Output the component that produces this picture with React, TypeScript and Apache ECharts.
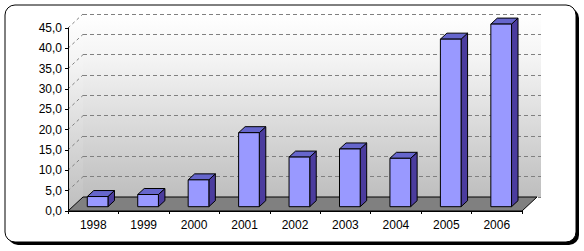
import React, { useEffect, useRef } from "react";
import * as echarts from "echarts";

const categories = ["1998", "1999", "2000", "2001", "2002", "2003", "2004", "2005", "2006"];
const values = [2.5, 3.0, 6.6, 18.2, 12.2, 14.2, 11.9, 41.2, 44.9];
const yMin = 0;
const yMax = 45;
const yStep = 5;
const yTickValues = [5, 10, 15, 20, 25, 30, 35, 40, 45];

const DX = 15;
const DY = -14;
const FX = 4.4;
const FY = -4.3;
const BDX = 6.5;
const BDY = -6;

const fmt = (v: number) => v.toFixed(1).replace(".", ",");

export default function App() {
  const ref = useRef<HTMLDivElement>(null);
  useEffect(() => {
    if (!ref.current) return;
    const chart = echarts.init(ref.current, undefined, { renderer: "svg" });
    const wallGrad = () =>
      new echarts.graphic.LinearGradient(0, 0, 0, 1, [
        { offset: 0, color: "#ffffff" },
        { offset: 0.26, color: "#f3f3f3" },
        { offset: 1, color: "#bebebe" },
      ]);
    const option: any = {
      animation: false,
      graphic: [
        { type: "rect", z: -100, shape: { x: 8, y: 8, width: 571, height: 237, r: 10 }, style: { fill: "#000" } },
        { type: "rect", z: -99, shape: { x: 5, y: 5, width: 571, height: 237, r: 10 }, style: { fill: "#fff", stroke: "#000", lineWidth: 1 } },
      ],
      grid: [
        { left: 68, top: 28, width: 454, height: 183, show: false },
        { left: 83, top: 14, width: 458, height: 183, show: true, borderWidth: 0, backgroundColor: wallGrad() },
      ],
      xAxis: [
        {
          type: "category",
          gridIndex: 0,
          data: categories,
          boundaryGap: true,
          z: 5,
          axisLine: { show: true, lineStyle: { color: "#000", width: 1 } },
          axisTick: { show: true, interval: 0, alignWithLabel: false, length: 3, lineStyle: { color: "#000" } },
          axisLabel: { interval: 0, margin: 8, color: "#000", fontSize: 12, fontFamily: "Liberation Sans" },
          splitLine: { show: false },
        },
        { type: "category", gridIndex: 1, data: categories, show: false },
      ],
      yAxis: [
        {
          type: "value",
          gridIndex: 0,
          min: yMin,
          max: yMax,
          interval: yStep,
          z: 5,
          axisLine: { show: true, lineStyle: { color: "#000", width: 1 } },
          axisTick: { show: true, length: 3, lineStyle: { color: "#000" } },
          axisLabel: { margin: 6, color: "#000", fontSize: 12, fontFamily: "Liberation Sans", formatter: fmt },
          splitLine: { show: false },
        },
        {
          type: "value",
          gridIndex: 1,
          min: yMin,
          max: yMax,
          interval: yStep,
          axisLine: { show: false },
          axisTick: { show: false },
          axisLabel: { show: false },
          splitLine: { show: true, lineStyle: { color: "#808080", type: [4, 3], width: 1 } },
        },
      ],
      series: [
        {
          type: "custom",
          xAxisIndex: 0,
          yAxisIndex: 0,
          z: 1,
          silent: true,
          data: [[0, 0]],
          renderItem: (params: any, api: any) => {
            const cs = params.coordSys;
            const gx = cs.x, gy = cs.y, gw = cs.width, gh = cs.height;
            const children: any[] = [];
            children.push({
              type: "polygon",
              shape: { points: [[gx, gy + gh], [gx + DX, gy + gh + DY], [gx + DX, gy + DY], [gx, gy]] },
              style: { fill: wallGrad(), stroke: "none" },
            });
            yTickValues.forEach((v) => {
              const p = api.coord([0, v]);
              children.push({
                type: "line",
                shape: { x1: gx, y1: p[1], x2: gx + DX, y2: p[1] + DY },
                style: { stroke: "#808080", lineWidth: 1, lineDash: [3, 3] },
              });
            });
            children.push({
              type: "polygon",
              shape: { points: [[gx, gy + gh], [gx + gw, gy + gh], [gx + gw + DX, gy + gh + DY], [gx + DX, gy + gh + DY]] },
              style: { fill: "#808080", stroke: "#000", lineWidth: 1 },
            });
            return { type: "group", children };
          },
        },
        {
          type: "custom",
          xAxisIndex: 0,
          yAxisIndex: 0,
          z: 3,
          silent: true,
          data: values.map((v, i) => [i, v]),
          encode: { x: 0, y: 1 },
          renderItem: (params: any, api: any) => {
            const idx = api.value(0);
            const val = api.value(1);
            const top = api.coord([idx, val]);
            const base = api.coord([idx, 0]);
            const bw = api.size([1, 0])[0] * 0.41;
            const x = top[0] - bw / 2 + FX;
            const y = top[1] + FY;
            const h = base[1] - top[1];
            const stroke = { stroke: "#000", lineWidth: 1, lineJoin: "round" };
            return {
              type: "group",
              children: [
                {
                  type: "polygon",
                  shape: { points: [[x + bw, y], [x + bw, y + h], [x + bw + BDX, y + h + BDY], [x + bw + BDX, y + BDY]] },
                  style: { fill: "#4b3c9e", ...stroke },
                },
                {
                  type: "polygon",
                  shape: { points: [[x, y], [x + bw, y], [x + bw + BDX, y + BDY], [x + BDX, y + BDY]] },
                  style: { fill: "#6666cc", ...stroke },
                },
                {
                  type: "rect",
                  shape: { x, y, width: bw, height: h },
                  style: { fill: "#9999ff", ...stroke },
                },
              ],
            };
          },
        },
      ],
    };
    chart.setOption(option);
    return () => chart.dispose();
  }, []);
  return <div ref={ref} style={{ position: "absolute", left: 0, top: 0, width: 584, height: 251 }} />;
}
